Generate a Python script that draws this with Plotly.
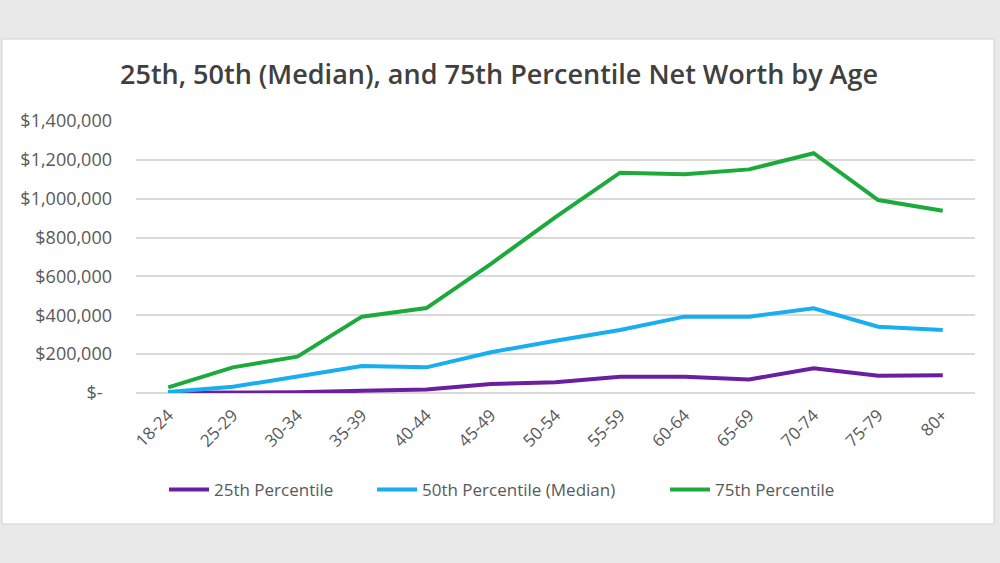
import plotly.graph_objects as go

ages = ["18-24", "25-29", "30-34", "35-39", "40-44", "45-49", "50-54",
        "55-59", "60-64", "65-69", "70-74", "75-79", "80+"]
p25 = [1000, 2000, 4000, 11000, 18000, 46000, 55000, 84000, 84000, 70000, 127000, 89000, 92000]
p50 = [5000, 32000, 85000, 139000, 132000, 210000, 269000, 324000, 393000, 393000, 436000, 341000, 324000]
p75 = [29000, 132000, 187000, 393000, 437000, 665000, 905000, 1134000, 1126000, 1151000, 1234000, 993000, 938000]

series_names = ["25th Percentile", "50th Percentile (Median)", "75th Percentile"]
series_values = [p25, p50, p75]
series_colors = ["#6B1FA0", "#18AEEF", "#1DAA3C"]

tickvals = [0, 200000, 400000, 600000, 800000, 1000000, 1200000, 1400000]
ticktext = ["$-\u00a0\u00a0", "$200,000", "$400,000", "$600,000", "$800,000",
            "$1,000,000", "$1,200,000", "$1,400,000"]

# plot area geometry (pixels)
L, R, T, B = 136, 25, 121, 170
PW = 1000 - L - R
PH = 563 - T - B

font_family = "Open Sans, sans-serif"
legend_left_px = [164, 372, 665]
legend_keys = ["legend", "legend2", "legend3"]

fig = go.Figure()
for name, vals, color, key in zip(series_names, series_values, series_colors, legend_keys):
    fig.add_trace(go.Scatter(x=ages, y=vals, name=name, mode="lines",
                             line=dict(color=color, width=4), legend=key))

legend_common = dict(orientation="h", y=(393 - 490) / PH, yanchor="middle",
                     xanchor="left", font=dict(size=17, color="#595959"),
                     bgcolor="rgba(0,0,0,0)", itemwidth=40)
legends = {key: dict(legend_common, x=(px - L) / PW)
           for key, px in zip(legend_keys, legend_left_px)}

fig.update_layout(
    width=1000, height=563,
    paper_bgcolor="#e9e9e9",
    plot_bgcolor="white",
    margin=dict(l=L, r=R, t=T, b=B),
    title=dict(text="25th, 50th (Median), and 75th Percentile Net Worth by Age",
               x=0.499, xanchor="center", y=1 - 75 / 563, yanchor="middle",
               yref="container",
               font=dict(family=font_family, size=27, color="#404040", weight=600)),
    font=dict(family=font_family, color="#595959"),
    showlegend=True,
    shapes=[dict(type="rect", xref="paper", yref="paper",
                 x0=(2 - L) / PW, x1=(994 - L) / PW,
                 y0=(393 - 524) / PH, y1=(393 - 39) / PH,
                 fillcolor="white", line=dict(color="#d2d2d2", width=1),
                 layer="below")],
    **legends,
)
fig.update_xaxes(type="category", range=[-0.5, 12.5], tickangle=-45,
                 showgrid=False, showline=False, ticks="", ticklabelstandoff=8,
                 tickfont=dict(size=17, color="#595959"))
fig.update_yaxes(range=[0, 1400000], tickvals=tickvals, ticktext=ticktext,
                 showgrid=True, gridcolor="#d9d9d9", gridwidth=1.5,
                 zeroline=True, zerolinecolor="#d9d9d9", zerolinewidth=1.5,
                 showline=False, ticks="", ticklabelstandoff=23,
                 tickfont=dict(size=18, color="#595959"))

fig.write_html("out.html", config={"displayModeBar": False},
               post_script="document.body.style.margin='0';document.body.style.padding='0';")
